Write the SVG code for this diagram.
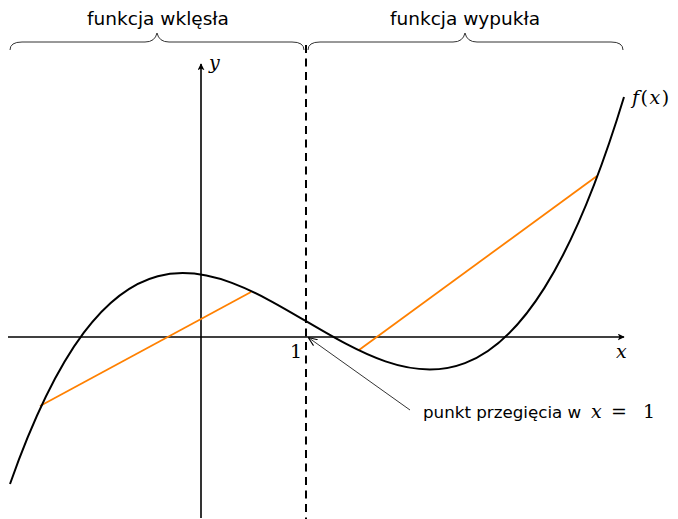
<svg xmlns="http://www.w3.org/2000/svg" width="678" height="519" viewBox="0 0 678 519">
<defs>
<style>
.lbl{font-family:"DejaVu Sans","Liberation Sans",sans-serif;font-size:18.5px;fill:#000}
.ann{font-family:"DejaVu Sans","Liberation Sans",sans-serif;font-size:16.7px;fill:#000}
.math{font-family:"DejaVu Serif","Liberation Serif",serif;font-style:italic;font-size:19px;fill:#000}
.mathr{font-family:"DejaVu Serif","Liberation Serif",serif;font-size:19px;fill:#000}
.axis{stroke:#000;stroke-width:1.6;fill:none}
.brace{stroke:#333;stroke-width:1;fill:none}
.chord{stroke:#ff8000;stroke-width:1.8;fill:none}
</style>
<marker id="ah" viewBox="0 0 10 10" refX="9" refY="5" markerWidth="7" markerHeight="7" orient="auto" markerUnits="userSpaceOnUse">
<path d="M0,0 L10,5 L0,10 L2.5,5 Z" fill="#000"/>
</marker>
<marker id="ahs" viewBox="0 0 10 10" refX="9" refY="5" markerWidth="9" markerHeight="9" orient="auto" markerUnits="userSpaceOnUse">
<path d="M0,1 L10,5 L0,9" fill="none" stroke="#000" stroke-width="1.2"/>
</marker>
</defs>
<rect width="678" height="519" fill="#fff"/>
<g id="braces">
<path class="brace" d="M10,50 Q10,42 22,42 L145,42 Q155,42 157,33 Q159,42 169,42 L292,42 Q304,42 304,50"/>
<path class="brace" d="M308,50 Q308,42 320,42 L453,42 Q463,42 465,33 Q467,42 477,42 L611,42 Q623,42 623,50"/>
<text class="lbl" x="158" y="25" text-anchor="middle">funkcja wklęsła</text>
<text class="lbl" x="465" y="25" text-anchor="middle">funkcja wypukła</text>
</g>
<g id="axes">
<line class="axis" x1="8" y1="337" x2="624" y2="337" marker-end="url(#ah)"/>
<line class="axis" x1="201" y1="518" x2="201" y2="64" marker-end="url(#ah)"/>
<text class="math" x="209" y="69">y</text>
<text class="math" x="616" y="358">x</text>
<text class="mathr" x="290" y="358">1</text>
</g>
<g id="divider">
<line x1="306" y1="45" x2="306" y2="519" stroke="#000" stroke-width="2" stroke-dasharray="8 5.5"/>
</g>
<g id="chords">
<line class="chord" x1="40" y1="406" x2="251" y2="292"/>
<line class="chord" x1="359" y1="350" x2="597" y2="176"/>
</g>
<g id="curve">
<path d="M10,484 C213.33,-93.1 418.67,771.9 624,97" fill="none" stroke="#000" stroke-width="2"/>
<text class="math" x="632" y="104" letter-spacing="1.5">f<tspan font-style="normal">(</tspan>x<tspan font-style="normal">)</tspan></text>
</g>
<g id="annotation">
<line x1="410" y1="410" x2="309" y2="338" stroke="#000" stroke-width="0.8" marker-end="url(#ahs)"/>
<text class="ann" x="423" y="418">punkt przegięcia w<tspan class="math" x="591">x</tspan><tspan class="mathr" x="611">=</tspan><tspan class="mathr" x="643">1</tspan></text>
</g>
</svg>
